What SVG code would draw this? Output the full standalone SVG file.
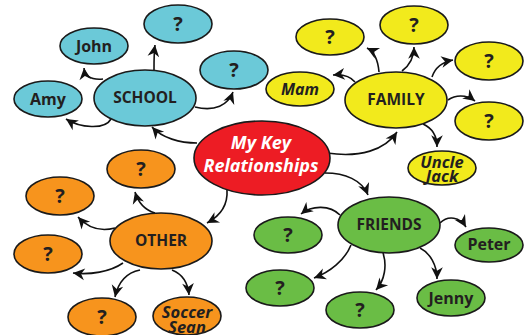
<svg xmlns="http://www.w3.org/2000/svg" width="530" height="335" viewBox="0 0 530 335">
  <defs>
    <!-- swept arrowhead used by every connector -->
    <marker id="arrow" markerUnits="userSpaceOnUse" markerWidth="14" markerHeight="14" viewBox="-11 -6 12 12" refX="0" refY="0" orient="auto">
      <path d="M0,0 L-10,-5 L-7,0 L-10,5 Z" fill="#111"/>
    </marker>
  </defs>
  <style>
    ellipse { stroke: #1a1a1a; stroke-width: 1.6; }
    .school { fill: #6BC9D8; }
    .family { fill: #F2EA1C; }
    .friends { fill: #6ABD45; }
    .other { fill: #F7941D; }
    .hub { fill: #ED1C24; }
    text { font-family: "Open Sans", "Liberation Sans", sans-serif; font-weight: 700; fill: #231F20; text-anchor: middle; font-size: 16px; }
    .cap { font-size: 15.5px; }
    .q { font-size: 20px; }
    .it { font-style: italic; }
    .two { font-size: 16.5px; }
    .title { fill: #ffffff; font-style: italic; font-size: 18px; }
    #connectors path { fill: none; stroke: #111; stroke-width: 1.6; marker-end: url(#arrow); }
  </style>

  <rect width="530" height="335" fill="#ffffff"/>

  <g id="connectors">
    <!-- hub to groups -->
    <path d="M197,143 C180,143 162,138 152,127"/>
    <path d="M327,153 C360,158 385,150 397,132"/>
    <path d="M325,173 C345,173 362,180 368,195"/>
    <path d="M227,190 C228,205 220,216 207,223"/>
    <!-- school -->
    <path d="M103,79 C92,80 85,77 84,68"/>
    <path d="M111,119 C105,130 80,128 66,119"/>
    <path d="M154,70 C154,60 154,52 155,45"/>
    <path d="M195,107 C215,112 228,105 233,92"/>
    <!-- family -->
    <path d="M355,82 C350,76 343,74 333,75"/>
    <path d="M379,72 C378,60 375,52 367,48"/>
    <path d="M402,71 C410,65 414,58 414,47"/>
    <path d="M432,77 C435,68 442,62 453,60"/>
    <path d="M448,100 C455,95 466,94 475,101"/>
    <path d="M423,124 C432,128 437,136 437,147"/>
    <!-- friends -->
    <path d="M340,215 C330,205 312,205 301,214"/>
    <path d="M351,245 C345,260 330,272 314,278"/>
    <path d="M383,253 C387,265 385,280 376,290"/>
    <path d="M420,248 C430,253 437,265 437,279"/>
    <path d="M440,223 C448,215 460,217 466,227"/>
    <!-- other -->
    <path d="M155,213 C145,210 138,202 135,192"/>
    <path d="M115,228 C100,232 88,228 78,217"/>
    <path d="M123,263 C110,272 90,275 73,273"/>
    <path d="M140,270 C125,273 118,283 115,297"/>
    <path d="M172,270 C182,274 188,283 189,295"/>
  </g>

  <!-- centre -->
  <g id="hub">
    <ellipse class="hub" cx="262" cy="158" rx="68" ry="37"/>
    <text class="title" x="261" y="149"><tspan x="261">My Key</tspan><tspan x="261" dy="22.5">Relationships</tspan></text>
  </g>

  <!-- school group -->
  <g id="school">
    <ellipse class="school" cx="145" cy="98" rx="51" ry="28"/>
    <text class="cap" x="145" y="103">SCHOOL</text>
  </g>
  <g id="john">
    <ellipse class="school" cx="94" cy="46" rx="34" ry="18"/>
    <text x="94" y="51.5">John</text>
  </g>
  <g id="school-q1">
    <ellipse class="school" cx="178" cy="24" rx="34" ry="19"/>
    <text class="q" x="178" y="31">?</text>
  </g>
  <g id="school-q2">
    <ellipse class="school" cx="234" cy="70" rx="34" ry="19"/>
    <text class="q" x="234" y="77">?</text>
  </g>
  <g id="amy">
    <ellipse class="school" cx="48" cy="99" rx="34" ry="18"/>
    <text x="48" y="104.5">Amy</text>
  </g>

  <!-- family group -->
  <g id="family">
    <ellipse class="family" cx="396" cy="100" rx="51" ry="28"/>
    <text class="cap" x="396" y="105">FAMILY</text>
  </g>
  <g id="mam">
    <ellipse class="family" cx="300" cy="89" rx="34" ry="17"/>
    <text class="it" x="300" y="94.5">Mam</text>
  </g>
  <g id="family-q1">
    <ellipse class="family" cx="330" cy="37" rx="34" ry="18"/>
    <text class="q" x="330" y="44">?</text>
  </g>
  <g id="family-q2">
    <ellipse class="family" cx="414" cy="25" rx="34" ry="19"/>
    <text class="q" x="414" y="32">?</text>
  </g>
  <g id="family-q3">
    <ellipse class="family" cx="489" cy="61" rx="34" ry="19"/>
    <text class="q" x="489" y="68">?</text>
  </g>
  <g id="family-q4">
    <ellipse class="family" cx="489" cy="121" rx="34" ry="19"/>
    <text class="q" x="489" y="128">?</text>
  </g>
  <g id="uncle-jack">
    <ellipse class="family" cx="442" cy="168" rx="34" ry="17"/>
    <text class="it two" x="442" y="167.5"><tspan x="442">Uncle</tspan><tspan x="442" dy="14.5">Jack</tspan></text>
  </g>

  <!-- friends group -->
  <g id="friends">
    <ellipse class="friends" cx="389" cy="225" rx="51" ry="28"/>
    <text class="cap" x="389" y="230">FRIENDS</text>
  </g>
  <g id="friends-q1">
    <ellipse class="friends" cx="288" cy="235" rx="34" ry="18"/>
    <text class="q" x="288" y="242">?</text>
  </g>
  <g id="friends-q2">
    <ellipse class="friends" cx="280" cy="288" rx="34" ry="18"/>
    <text class="q" x="280" y="295">?</text>
  </g>
  <g id="friends-q3">
    <ellipse class="friends" cx="360" cy="310" rx="34" ry="18"/>
    <text class="q" x="360" y="317">?</text>
  </g>
  <g id="jenny">
    <ellipse class="friends" cx="451" cy="298" rx="34" ry="18"/>
    <text x="451" y="303.5">Jenny</text>
  </g>
  <g id="peter">
    <ellipse class="friends" cx="489" cy="245" rx="34" ry="17"/>
    <text x="489" y="250">Peter</text>
  </g>

  <!-- other group -->
  <g id="other">
    <ellipse class="other" cx="161" cy="241" rx="51" ry="28"/>
    <text class="cap" x="161" y="246">OTHER</text>
  </g>
  <g id="other-q1">
    <ellipse class="other" cx="141" cy="169" rx="34" ry="19"/>
    <text class="q" x="141" y="176">?</text>
  </g>
  <g id="other-q2">
    <ellipse class="other" cx="60" cy="196" rx="34" ry="19"/>
    <text class="q" x="60" y="203">?</text>
  </g>
  <g id="other-q3">
    <ellipse class="other" cx="48" cy="254" rx="34" ry="19"/>
    <text class="q" x="48" y="261">?</text>
  </g>
  <g id="other-q4">
    <ellipse class="other" cx="102" cy="317" rx="34" ry="19"/>
    <text class="q" x="102" y="324">?</text>
  </g>
  <g id="soccer-sean">
    <ellipse class="other" cx="187" cy="316" rx="34" ry="19"/>
    <text class="it two" x="187" y="317.5"><tspan x="187">Soccer</tspan><tspan x="187" dy="15">Sean</tspan></text>
  </g>
</svg>
